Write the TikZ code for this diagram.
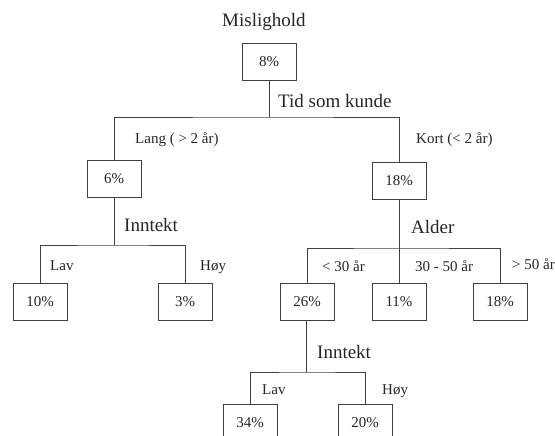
\documentclass[tikz,border=0pt]{standalone}
\usepackage{fontspec}
\setmainfont{Liberation Serif}
\definecolor{ink}{HTML}{262626}
\definecolor{rule}{HTML}{404040}
\begin{document}
\begin{tikzpicture}[x=1pt,y=-1pt,
  box/.style={draw=rule,line width=0.8pt,minimum width=54pt,minimum height=37pt,
              inner sep=0pt,text=ink,font=\fontsize{15}{17}\selectfont},
  attr/.style={anchor=base west,inner sep=0pt,text=ink,font=\fontsize{19}{21}\selectfont},
  val/.style={anchor=base west,inner sep=0pt,text=ink,font=\fontsize{15}{17}\selectfont},
  link/.style={draw=rule,line width=0.8pt}]
\clip (0,0) rectangle (555,436);
\useasboundingbox (0,0) rectangle (555,436);
\fill[white] (0,0) rectangle (555,436);

% boxes
\node[box] (root) at (269,61.5) {8\%};
\node[box] (lang) at (114,179) {6\%};
\node[box] (kort) at (399,181) {18\%};
\node[box] (lav1) at (40,301.5) {10\%};
\node[box] (hoy1) at (185,301.5) {3\%};
\node[box] (ung) at (307,301.5) {26\%};
\node[box] (mid) at (399,301.5) {11\%};
\node[box] (eldre) at (500,301.5) {18\%};
\node[box] (lav2) at (250,422.5) {34\%};
\node[box] (hoy2) at (365,422.5) {20\%};

% split points
\coordinate (j1) at (269,117);
\coordinate (j2) at (114,245);
\coordinate (j3) at (399,248);
\coordinate (j4) at (306,372);

% connectors
\draw[link] (root.south) -- (j1);
\draw[link] (lang.north) |- (j1) -| (kort.north);
\draw[link] (lang.south) -- (j2);
\draw[link] (lav1.north) |- (j2) -| (hoy1.north);
\draw[link] (kort.south) -- (j3);
\draw[link] (ung.north) |- (j3) -| (eldre.north);
\draw[link] (j3) -- (mid.north);
\draw[link] (ung.south -| j4) -- (j4);
\draw[link] (lav2.north) |- (j4) -| (hoy2.north);

% labels
\node[attr] (tmis) at (222,27) {Mislighold};
\node[attr] (ttid) at (278,108) {Tid som kunde};
\node[val] (tlang) at (135,143) {Lang ( > 2 år)};
\node[val] (tkort) at (416,143) {Kort (< 2 år)};
\node[attr] (tinn1) at (124,231) {Inntekt};
\node[attr] (talder) at (411,233) {Alder};
\node[val] (tlav1) at (50,270) {Lav};
\node[val] (thoy1) at (200,270) {Høy};
\node[val] (tu30) at (322,271.5) {< 30 år};
\node[val] (t3050) at (415,271.5) {30 - 50 år};
\node[val] (to50) at (512,269) {> 50 år};
\node[attr] (tinn2) at (317,358) {Inntekt};
\node[val] (tlav2) at (262,394) {Lav};
\node[val] (thoy2) at (382,394) {Høy};
\end{tikzpicture}
\end{document}
